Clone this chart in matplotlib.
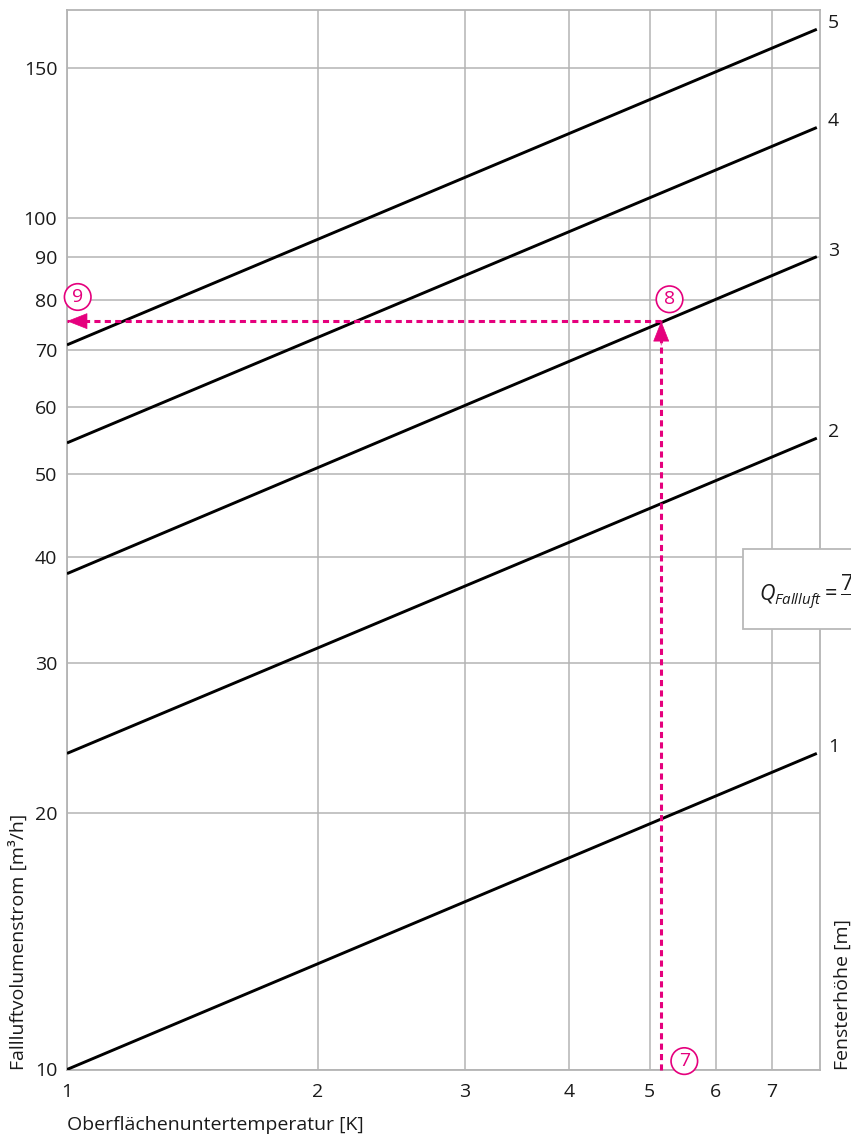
import matplotlib
matplotlib.use("Agg")
import matplotlib.pyplot as plt
from matplotlib.patches import Rectangle
from matplotlib.ticker import FixedLocator, NullLocator, FixedFormatter

# --- data -------------------------------------------------------------
# surface under-temperature range covered by each characteristic line [K]
temp_range = [1.0, 7.93]
# downdraught volume flow at the start / end of each line [m³/h]
q_start = [10.0, 23.5, 38.2, 54.4, 70.9]
q_end = [23.5, 55.1, 90.0, 127.6, 166.4]
# window height belonging to each line [m]
window_heights = ["1", "2", "3", "4", "5"]

# worked example: read-off path
example_dT = 5.16
example_Q = 75.6
example_marks = ["7", "8", "9"]
example_mark_pos = [(5.50, 10.23), (5.28, 80.2), (1.030, 80.7)]

x_ticks = [1, 2, 3, 4, 5, 6, 7]
y_ticks = [10, 20, 30, 40, 50, 60, 70, 80, 90, 100, 150]

# --- style ------------------------------------------------------------
plt.rcParams["font.family"] = ["Open Sans", "DejaVu Sans"]
plt.rcParams["mathtext.fontset"] = "custom"
plt.rcParams["mathtext.rm"] = "Open Sans"
plt.rcParams["mathtext.it"] = "Open Sans:italic"
plt.rcParams["mathtext.bf"] = "Open Sans:bold"

FS = 14
PINK = "#E5007D"
GRID = "#b4b4b4"
TXT = "#1a1a1a"
W, H = 851, 1135

fig = plt.figure(figsize=(W / 100, H / 100), dpi=100)
fig.patch.set_facecolor("white")
ax = fig.add_axes([67 / W, 1 - 1069.5 / H, (820 - 67) / W, (1069.5 - 10) / H])

ax.set_xscale("log")
ax.set_yscale("log")
ax.set_xlim(1, 8.0)
ax.set_ylim(10, 175.3)

ax.xaxis.set_major_locator(FixedLocator(x_ticks))
ax.xaxis.set_major_formatter(FixedFormatter([str(t) for t in x_ticks]))
ax.xaxis.set_minor_locator(NullLocator())
ax.yaxis.set_major_locator(FixedLocator(y_ticks))
ax.yaxis.set_major_formatter(FixedFormatter([str(t) for t in y_ticks]))
ax.yaxis.set_minor_locator(NullLocator())

ax.tick_params(axis="both", length=0, labelsize=FS, colors=TXT)
ax.tick_params(axis="x", pad=10)
ax.tick_params(axis="y", pad=7)
ax.grid(True, color=GRID, linewidth=1.1)
ax.set_axisbelow(True)
for s in ax.spines.values():
    s.set_color(GRID)
    s.set_linewidth(1.3)

# characteristic lines, one per window height
for h, q0, q1 in zip(window_heights, q_start, q_end):
    ax.plot(temp_range, [q0, q1], color="black", linewidth=2.1,
            solid_capstyle="butt", zorder=3)
    ax.annotate(h, xy=(temp_range[1], q1), xytext=(11, 6),
                textcoords="offset pixels", ha="left", va="center",
                fontsize=FS, color=TXT, annotation_clip=False)

# read-off path of the example (dashed, with arrowheads)
dash = (0, (2.0, 1.4))
ax.plot([example_dT, example_dT], [10, example_Q], color=PINK,
        linewidth=2.2, linestyle=dash, zorder=4, clip_on=False)
ax.plot([example_dT, 1.0], [example_Q, example_Q], color=PINK,
        linewidth=2.2, linestyle=dash, zorder=4)
head = dict(arrowstyle="-|>,head_length=1.37,head_width=0.54",
            mutation_scale=10, color=PINK, lw=0.5,
            shrinkA=0, shrinkB=0)
ax.annotate("", xy=(example_dT, example_Q), xytext=(0, -24),
            textcoords="offset pixels", arrowprops=head, zorder=5)
ax.annotate("", xy=(1.0, example_Q), xytext=(20, 0),
            textcoords="offset pixels", arrowprops=head, zorder=5,
            annotation_clip=False)

for m, (mx, my) in zip(example_marks, example_mark_pos):
    ax.text(mx, my, m, ha="center", va="center", fontsize=FS, color=PINK,
            zorder=6,
            bbox=dict(boxstyle="circle,pad=0.22", fc="white", ec=PINK,
                      lw=1.2))

# axis titles
fig.text(67 / W, 1 - 1130 / H, "Oberflächenuntertemperatur [K]",
         ha="left", va="baseline", fontsize=FS, color=TXT)
fig.text(18 / W, 1 - 1070 / H, "Fallluftvolumenstrom [m³/h]",
         rotation=90, ha="center", va="bottom", fontsize=FS, color=TXT)
fig.text(843 / W, 1 - 1070 / H, "Fensterhöhe [m]",
         rotation=90, ha="center", va="bottom", fontsize=FS, color=TXT)

# formula box on the right edge
box = Rectangle((743 / W, 1 - 629 / H), 140 / W, 80 / H,
                transform=fig.transFigure, facecolor="white",
                edgecolor="#b9b9b9", linewidth=1.3, zorder=10)
fig.patches.append(box)
fig.text(759 / W, 1 - 601 / H,
         r"$Q_{Fallluft} = \dfrac{\mathit{7}\quad\quad\quad}{\quad\quad\quad}$",
         ha="left", va="baseline", fontsize=15.5, color=TXT, zorder=11)

fig.savefig("out.png", dpi=100)
